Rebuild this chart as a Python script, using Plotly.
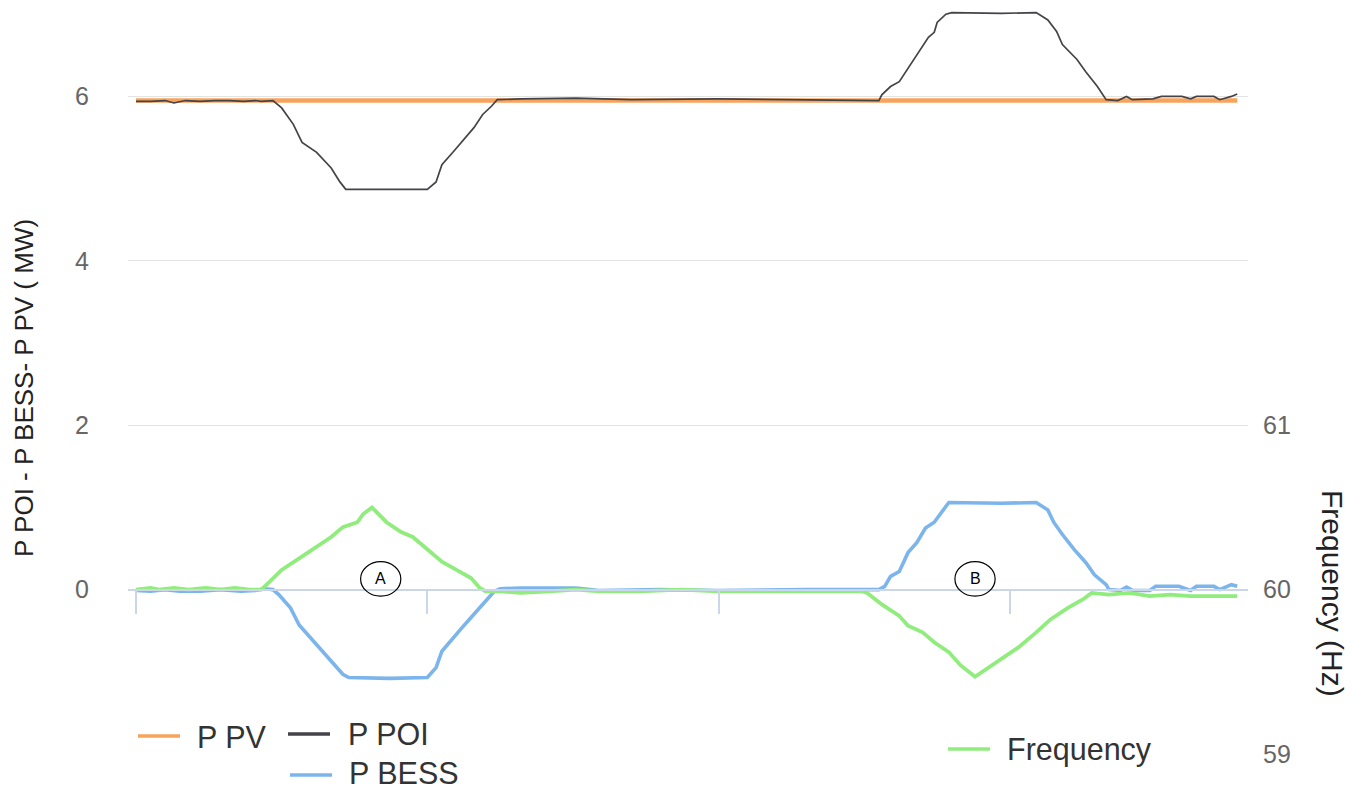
import plotly.graph_objects as go

# ---- data (time in s) ----
pv_t = [0, 378]
pv_mw = [5.95, 5.95]

poi_t = [0, 5, 10, 13, 17, 22, 27, 32, 37, 41, 43, 46, 47, 50, 54, 57, 62, 67, 70, 72,
         80, 91, 100, 103, 105, 109, 112, 116, 119, 122, 124, 132, 151, 170, 200, 230,
         255, 256, 259, 262, 266, 269, 272, 274, 275, 278, 280, 297, 309, 313, 316, 318,
         323, 326, 330, 333, 337, 340, 342, 349, 352, 359, 362, 364, 370, 372, 376, 378]
poi_mw = [5.94, 5.94, 5.95, 5.92, 5.95, 5.94, 5.95, 5.95, 5.94, 5.95, 5.94, 5.95, 5.95,
          5.86, 5.66, 5.44, 5.32, 5.13, 4.96, 4.87, 4.87, 4.87, 4.87, 4.96, 5.17, 5.33,
          5.45, 5.62, 5.78, 5.88, 5.96, 5.97, 5.98, 5.96, 5.97, 5.96, 5.95, 6.02, 6.12,
          6.18, 6.39, 6.55, 6.72, 6.78, 6.90, 7.00, 7.02, 7.01, 7.02, 6.93, 6.79, 6.63,
          6.45, 6.30, 6.12, 5.96, 5.95, 6.00, 5.96, 5.97, 6.00, 6.00, 5.97, 6.00, 6.00,
          5.96, 6.00, 6.03]

bess_t = [0, 5, 10, 15, 22, 29, 36, 41, 44, 47, 49, 53, 56, 61, 64, 68, 71, 73, 87, 100,
          103, 105, 109, 112, 116, 119, 121, 123, 125, 132, 151, 159, 180, 200, 230, 255,
          257, 259, 262, 265, 268, 271, 274, 277, 279, 297, 309, 313, 315, 318, 322, 326,
          329, 333, 334, 338, 340, 342, 348, 350, 358, 362, 364, 370, 372, 376, 378]
bess_mw = [-0.01, -0.02, 0.00, -0.02, -0.02, 0.00, -0.02, -0.01, 0.01, 0.00, -0.06, -0.22,
           -0.43, -0.63, -0.75, -0.91, -1.03, -1.07, -1.08, -1.07, -0.95, -0.75, -0.58,
           -0.46, -0.30, -0.18, -0.10, -0.02, 0.01, 0.02, 0.02, -0.01, 0.00, -0.01, 0.00,
           0.00, 0.04, 0.16, 0.22, 0.45, 0.57, 0.75, 0.82, 0.97, 1.06, 1.05, 1.06, 0.97,
           0.82, 0.67, 0.49, 0.33, 0.18, 0.06, 0.00, -0.01, 0.03, -0.01, -0.01, 0.04, 0.04,
           -0.01, 0.04, 0.04, 0.00, 0.06, 0.04]

freq_t = [0, 5, 8, 13, 18, 24, 29, 34, 39, 43, 46, 50, 56, 62, 67, 71, 76, 78, 81, 86, 91,
          95, 101, 105, 110, 115, 118, 120, 125, 132, 142, 151, 159, 173, 187, 200, 214,
          228, 242, 249, 251, 256, 262, 265, 270, 274, 279, 283, 288, 294, 298, 303, 309,
          314, 320, 325, 328, 334, 341, 348, 355, 362, 369, 374, 378]
freq_hz = [60.00, 60.01, 60.00, 60.01, 60.00, 60.01, 60.00, 60.01, 60.00, 60.00, 60.05,
           60.12, 60.19, 60.26, 60.32, 60.38, 60.41, 60.46, 60.50, 60.41, 60.35, 60.32,
           60.23, 60.17, 60.12, 60.07, 60.01, 59.99, 59.99, 59.98, 59.99, 60.00, 59.99,
           59.99, 60.00, 59.99, 59.99, 59.99, 59.99, 59.99, 59.98, 59.91, 59.84, 59.78,
           59.74, 59.68, 59.62, 59.54, 59.47, 59.54, 59.59, 59.65, 59.74, 59.82, 59.89,
           59.94, 59.98, 59.97, 59.98, 59.96, 59.97, 59.96, 59.96, 59.96, 59.96]

time_ticks = [0, 100, 200, 300]
mw_ticks = [0, 2, 4, 6]
hz_ticks = [59, 60, 61]
mw_range = [-2, 7.1]
hz_range = [59, 59 + (mw_range[1] - mw_range[0]) / 2]   # 1 Hz per 2 MW, 60 Hz on 0 MW

events = [("A", 84, 0.13), ("B", 288, 0.13)]

series = [
    ("P PV", pv_t, pv_mw, "#f7a35c", 4.5, "y"),
    ("P POI", poi_t, poi_mw, "#434348", 1.7, "y"),
    ("P BESS", bess_t, bess_mw, "#7cb5ec", 3.6, "y"),
    ("Frequency", freq_t, freq_hz, "#90ed7d", 3.8, "y2"),
]

W, H = 1362, 789
ML, MR, MT, MB = 128, 114, 6, 35
FONT = "Liberation Sans, Arial, sans-serif"

fig = go.Figure()
for name, t, v, color, width, yax in series:
    fig.add_trace(go.Scatter(x=t, y=v, name=name, mode="lines", yaxis=yax,
                             line=dict(color=color, width=width), showlegend=False))


def px_x(px):
    return (px - ML) / (W - ML - MR)


def px_y(py):
    return (H - MB - py) / (H - MT - MB)


# legend keys drawn beneath the plot
legend_items = [
    ("P PV", "#f7a35c", 138, 736, 195, 737),
    ("P POI", "#434348", 288, 734, 346, 734),
    ("P BESS", "#7cb5ec", 290, 775, 347, 773),
    ("Frequency", "#90ed7d", 948, 749, 1005, 749),
]
shapes = []
annotations = []
for label, color, lx, ly, tx, ty in legend_items:
    shapes.append(dict(type="line", xref="paper", yref="paper",
                       x0=px_x(lx), x1=px_x(lx + 42), y0=px_y(ly), y1=px_y(ly),
                       line=dict(color=color, width=3.5)))
    annotations.append(dict(text=label, xref="paper", yref="paper", x=px_x(tx), y=px_y(ty),
                            xanchor="left", yanchor="middle", showarrow=False,
                            font=dict(size=30.5, color="#333333", family=FONT)))

# event markers
for label, t, v in events:
    shapes.append(dict(type="circle", xref="x", yref="y", x0=t - 6.9, x1=t + 6.9,
                       y0=v - 0.21, y1=v + 0.21, line=dict(color="black", width=1.2)))
    annotations.append(dict(text=label, x=t, y=v, xref="x", yref="y", showarrow=False,
                            font=dict(size=16, color="black", family=FONT)))

# axis titles
annotations.append(dict(text="P POI - P BESS- P PV ( MW)", xref="paper", yref="paper",
                        x=px_x(24), y=px_y(388), textangle=-90, showarrow=False,
                        xanchor="center", yanchor="middle",
                        font=dict(size=26, color="#222222", family=FONT)))
annotations.append(dict(text="Frequency (Hz)", xref="paper", yref="paper",
                        x=px_x(1333), y=px_y(593), textangle=90, showarrow=False,
                        xanchor="center", yanchor="middle",
                        font=dict(size=30, color="#222222", family=FONT)))

fig.update_layout(
    width=W, height=H,
    margin=dict(l=ML, r=MR, t=MT, b=MB),
    paper_bgcolor="white", plot_bgcolor="white",
    font=dict(family=FONT),
    showlegend=False,
    xaxis=dict(range=[-2.746, 381.7], anchor="free",
               position=(0 - mw_range[0]) / (mw_range[1] - mw_range[0]),
               showline=True, linecolor="#ccd6eb", linewidth=2,
               ticks="outside", ticklen=23, tickwidth=1.5, tickcolor="#ccd6eb",
               tickvals=time_ticks, showticklabels=False, showgrid=False, zeroline=False),
    yaxis=dict(range=mw_range, tickvals=mw_ticks, showgrid=True, gridcolor="#e3e3e3",
               gridwidth=1.2, zeroline=False, showline=False, ticks="",
               ticklabelstandoff=38,
               tickfont=dict(size=25, color="#666666", family=FONT)),
    yaxis2=dict(range=hz_range, tickvals=hz_ticks, overlaying="y", side="right",
                showgrid=False, zeroline=False, showline=False, ticks="",
                ticklabelstandoff=14,
                tickfont=dict(size=25, color="#666666", family=FONT)),
    shapes=shapes,
    annotations=annotations,
)

fig.write_html("out.html")
